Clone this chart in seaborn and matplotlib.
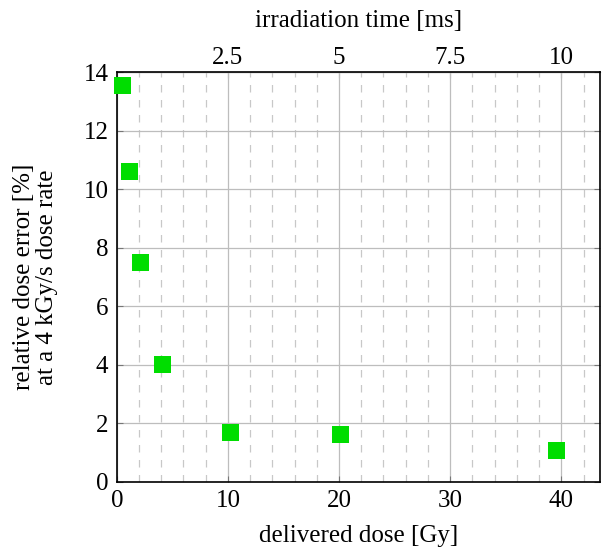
import matplotlib
matplotlib.use("Agg")
import matplotlib.pyplot as plt
import seaborn as sns
import pandas as pd
from matplotlib.ticker import MultipleLocator

# delivered dose [Gy] vs relative dose error [%]
dose = [0.55, 1.1, 2.1, 4.1, 10.2, 20.1, 39.6]
error = [13.55, 10.6, 7.5, 4.0, 1.7, 1.62, 1.06]
dose_rate = 4.0  # Gy per ms

sns.set_style("white")
plt.rcParams['font.family'] = ['Liberation Serif', 'DejaVu Serif']
plt.rcParams['text.color'] = 'black'
plt.rcParams['axes.labelcolor'] = 'black'
plt.rcParams['xtick.labelcolor'] = 'black'
plt.rcParams['ytick.labelcolor'] = 'black'

df = pd.DataFrame({"dose": dose, "error": error})

fig = plt.figure(figsize=(6.02, 5.47), dpi=100)
ax = fig.add_axes([0.194, 0.119, 0.803, 0.749])

ax.xaxis.set_major_locator(MultipleLocator(10))
ax.xaxis.set_minor_locator(MultipleLocator(2))
ax.yaxis.set_major_locator(MultipleLocator(2))
ax.grid(which='major', color='#bdbdbd', linewidth=0.9, linestyle='-')
ax.grid(which='minor', axis='x', color='#c8c8c8', linewidth=0.9, linestyle=(0, (6, 6)))
ax.set_axisbelow(True)

sns.scatterplot(data=df, x="dose", y="error", marker='s', s=150,
                color='#00dd00', edgecolor='none', ax=ax, zorder=3, clip_on=False)

fs = 18
ax.set_xlim(0, 43.5)
ax.set_ylim(0, 14)
ax.set_xlabel("delivered dose [Gy]", fontsize=fs, labelpad=9)
ax.set_ylabel("relative dose error [%]\nat a 4 kGy/s dose rate", fontsize=fs, labelpad=18,
              linespacing=1.1)
ax.tick_params(which='major', direction='in', length=4, color='#777777', labelsize=fs,
               left=True, right=True, bottom=True, pad=6)
ax.tick_params(which='minor', length=0)
for s in ax.spines.values():
    s.set_color('black')
    s.set_linewidth(1.2)

sec = ax.secondary_xaxis('top', functions=(lambda x: x / dose_rate, lambda t: t * dose_rate))
sec.xaxis.set_minor_locator(MultipleLocator(0.5))
sec.set_xticks([2.5, 5, 7.5, 10])
sec.set_xticklabels(["2.5", "5", "7.5", "10"])
sec.tick_params(which='major', direction='in', length=4, color='#777777', labelsize=fs, pad=2)
sec.tick_params(which='minor', direction='in', length=3, color='#999999')
sec.set_xlabel("irradiation time [ms]", fontsize=fs, labelpad=15)

fig.savefig("out.png", dpi=100)
